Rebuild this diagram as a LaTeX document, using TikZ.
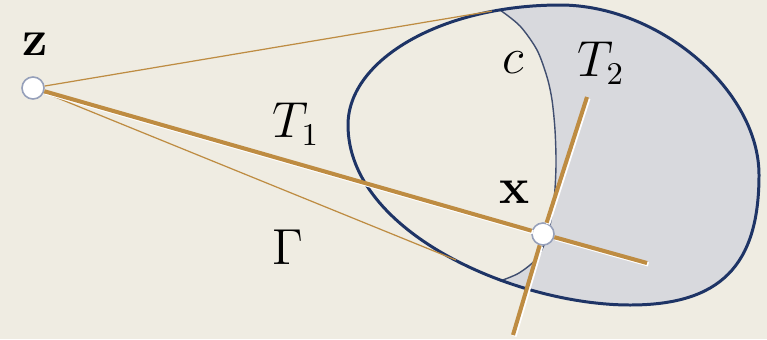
\documentclass[tikz,border=0pt]{standalone}
\usepackage{amsmath,amssymb}
\usepackage{xcolor}
\usepackage{tikz}
\usetikzlibrary{positioning,calc}
\definecolor{bgclr}{RGB}{239,236,226}
\definecolor{rimclr}{RGB}{30,52,102}
\definecolor{shadeclr}{RGB}{216,217,221}
\definecolor{rayclr}{RGB}{190,140,66}
\definecolor{ptclr}{RGB}{150,160,186}
% outline of the body and the contour c (pixel units)
\newcommand{\rimline}{(348,125) .. controls (348,59) and (443,5) .. (560,5)
  .. controls (659,5) and (759,90) .. (759,175)
  .. controls (759,266) and (720,305) .. (630,305)
  .. controls (517,305) and (348,233) .. (348,125) -- cycle}
\newcommand{\shadowline}{plot[smooth] coordinates {(500,10) (520,26) (537,50)
  (547,77) (552,100) (555,130) (556,165) (554,200) (548,234) (537,258)
  (519,273) (500,281)}}
\tikzset{
  ptnode/.style={circle,draw=ptclr,line width=0.45pt,fill=white,
                 minimum size=2.2mm,inner sep=0pt},
  rim/.style={draw=rimclr,line width=0.85pt},
  contour/.style={draw=rimclr!65!gray,line width=0.4pt},
  ray/.style={draw=rayclr,line width=0.35pt},
  tline/.style={draw=rayclr,line width=1.15pt,
                preaction={draw=white,line width=1.2pt,
                           transform canvas={shift={(0.4pt,-0.4pt)}}}},
  lbl/.style={inner sep=0pt},
}
\begin{document}
\begin{tikzpicture}[x=0.01cm, y=-0.01cm, font=\fontsize{13.3}{16}\selectfont]
\fill[bgclr] (0,0) rectangle (767,339);
% shadow side of the body
\begin{scope}
  \clip \rimline;
  \fill[shadeclr] \shadowline -- (500,345) -- (800,345) -- (800,-10)
    -- (500,-10) -- cycle;
\end{scope}
\draw[contour] \shadowline;
\draw[rim] \rimline;
% points
\node[ptnode] (z) at (33,88) {};
\node[ptnode] (x) at (543,234) {};
\coordinate (tup) at (492,11);
\coordinate (tlow) at (456,260);
\coordinate (t1end) at (647,263);
\coordinate (t2top) at (587,97);
\coordinate (t2bot) at (513,335);
% tangent cone and tangent lines
\draw[ray] (z) -- (tup);
\draw[ray] (z) -- (tlow);
\draw[tline] (z) -- (x);
\draw[tline] (x) -- (t1end);
\draw[tline] (t2top) -- (x);
\draw[tline] (x) -- (t2bot);
% labels
\node[lbl] (zlbl) at (35,44) {$\mathbf{z}$};
\node[lbl] (xlbl) at (515,192) {$\mathbf{x}$};
\node[lbl] (clbl) at (513,63) {$c$};
\node[lbl] (t1lbl) at (296,124) {$T_1$};
\node[lbl] (t2lbl) at (601,63) {$T_2$};
\node[lbl] (glbl) at (288,247) {$\Gamma$};
\end{tikzpicture}
\end{document}
